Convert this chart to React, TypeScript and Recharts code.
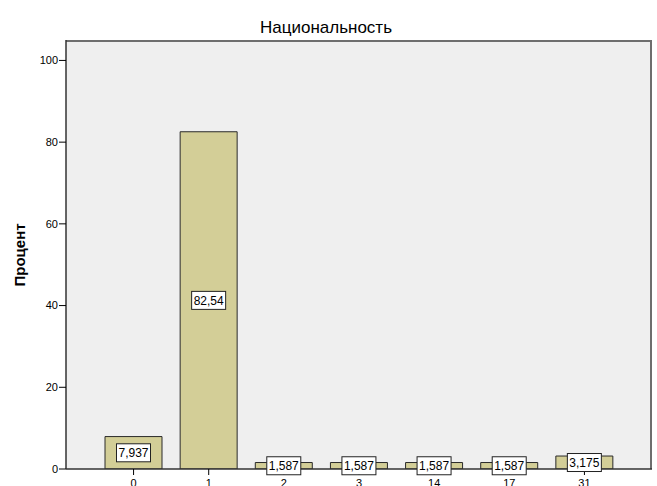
import React from 'react';
import { BarChart, Bar, XAxis, YAxis, CartesianGrid, LabelList, Label } from 'recharts';

const categories = ['0', '1', '2', '3', '14', '17', '31'];
const percents = [7.937, 82.54, 1.587, 1.587, 1.587, 1.587, 3.175];
const yTicks = [0, 20, 40, 60, 80, 100];

const data = categories.map((c, i) => ({ name: c, value: percents[i] }));

const FONT = 'Arial, "Liberation Sans", sans-serif';

const fmt = (v: number) => String(v).replace('.', ',');

const BoxLabel = (props: any) => {
  const { x, y, width, height, value } = props;
  const cx = Number(x) + Number(width) / 2;
  const cy = Number(y) + Number(height) / 2;
  const w = 34;
  const h = 18;
  return (
    <g>
      <rect x={cx - w / 2} y={cy - h / 2} width={w} height={h} fill="#ffffff" stroke="#222" strokeWidth={1} />
      <text x={cx} y={cy + 4.5} textAnchor="middle" fontSize={12} fontFamily={FONT} fill="#000">
        {fmt(value)}
      </text>
    </g>
  );
};

export default function App() {
  return (
    <div style={{ position: 'absolute', left: 0, top: 0, width: 657, height: 486, background: '#fff', overflow: 'hidden' }}>
      <BarChart width={657} height={486} data={data} margin={{ top: 40, right: 5, bottom: 0, left: 0 }}>
        <CartesianGrid
          fill="#efefef"
          stroke="#6e6e6e"
          strokeWidth={2}
          horizontalPoints={[41]}
          verticalPoints={[651]}
        />
        <XAxis
          dataKey="name"
          height={17}
          padding={{ left: 30, right: 30 }}
          tickSize={6}
          tickMargin={4}
          tick={{ fontSize: 11, fontFamily: FONT, fill: '#000' }}
          axisLine={{ stroke: '#333', strokeWidth: 1.5 }}
          tickLine={{ stroke: '#000' }}
        >
          <Label
            content={() => (
              <text x={326} y={32.5} textAnchor="middle" fontSize={17} fontFamily={FONT} fill="#000">
                Национальность
              </text>
            )}
          />
        </XAxis>
        <YAxis
          width={66}
          domain={[0, 105]}
          ticks={yTicks}
          allowDataOverflow
          tickSize={7}
          tickMargin={1}
          tick={{ fontSize: 11, fontFamily: FONT, fill: '#000' }}
          axisLine={{ stroke: '#333', strokeWidth: 1.5 }}
          tickLine={{ stroke: '#000' }}
        >
          <Label
            content={() => (
              <text
                x={25}
                y={255}
                transform="rotate(-90 25 255)"
                textAnchor="middle"
                fontSize={15}
                fontWeight="bold"
                fontFamily={FONT}
                fill="#000"
              >
                Процент
              </text>
            )}
          />
        </YAxis>
        <Bar dataKey="value" fill="#d3ce97" stroke="#2a2a2a" strokeWidth={1} barSize={57} isAnimationActive={false}>
          <LabelList dataKey="value" content={BoxLabel} />
        </Bar>
      </BarChart>
    </div>
  );
}
